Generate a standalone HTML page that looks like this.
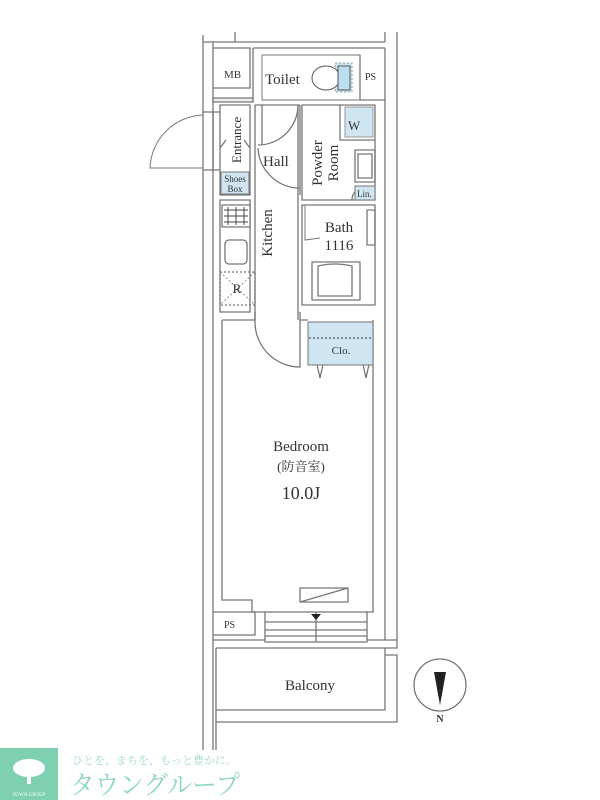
<!DOCTYPE html>
<html><head><meta charset="utf-8"><style>
body{margin:0;background:#fff;width:600px;height:800px;overflow:hidden}
svg{display:block}
text{font-family:"Liberation Serif","Noto Serif CJK SC",serif;fill:#333}
</style></head><body>
<svg width="600" height="800" viewBox="0 0 600 800" xmlns="http://www.w3.org/2000/svg">
<g fill="none" stroke="#777" stroke-width="1.3">
<path d="M203 35 V750 M213 42 V750"/>
<path d="M203 42 H235 V32 M235 42 H385 M385 32 V42"/>
<path d="M397 32 V648 H385"/>
<path d="M385 48 V640"/>
<path d="M213 48 H250 V88 H213"/>
<path d="M253 48 H385 M253 48 V100"/>
<path d="M360 55 V100 M360 100 H385"/>
<path d="M213 98 H253 V102 H213 Z" fill="#eee"/>
<path d="M220 105 H250 V195 H220 Z"/>
<path d="M213 112 V170"/>
<path d="M203 112 H220 M203 170 H220"/>
<path d="M203 115 A55 55 0 0 0 150 168 H203" stroke-width="1"/>
<path d="M220 148 L226 140 M250 148 L244 140"/>
<path d="M255 105 H300 M255 105 V320 M298 105 V320 M300 105 V195"/>
<path d="M262 105 V145 M298 105 A40 40 0 0 1 258 145"/>
<path d="M258 148 A42 42 0 0 0 300 188"/>
<path d="M302 105 H375 V200 H302 Z"/>
<path d="M340 105 V140 H375"/>
<path d="M355 150 H375 V182 H355 Z M358 154 H372 V178 H358 Z"/>
<path d="M352 200 A12 12 0 0 1 362 188"/>
<path d="M302 205 H375 V305 H302 Z"/>
<path d="M305 205 V240 L320 238" stroke-width="1"/>
<path d="M367 210 H375 V245 H367 Z"/>
<path d="M312 262 H360 V300 H312 Z M318 266 Q335 262 352 266 V296 H318 Z"/>
<path d="M220 200 H250 V312 H220 Z"/>
<rect x="225" y="240" width="22" height="24" rx="4"/>
<path d="M220 272 H255 V305 H220 Z" stroke-dasharray="2,2"/>
<path d="M220 272 L255 305 M255 272 L220 305" stroke-dasharray="2,2" stroke-width="0.8"/>
<path d="M222 320 H255 M300 320 H308 M222 320 V600 H252 V612 H265"/>
<path d="M373 320 V612 H365"/>
<path d="M255 312 V322 M300 312 V322"/>
<path d="M255 322 A45 45 0 0 0 300 367 V322"/>
<path d="M316 360 L320 378 L324 360 M362 360 L366 378 L370 360"/>
<path d="M265 612 H367 V642 H265 Z"/>
<path d="M265 622 H367 M265 630 H367 M265 636 H367 M316 612 V642"/>
<path d="M300 588 H348 V602 H300 Z M300 602 L348 588"/>
<path d="M213 612 H255 V635 H213"/>
<path d="M213 640 H265 M367 640 H397"/>
<path d="M216 648 V750 M216 648 H385 V710 H216 M216 722 H397 V655 H385"/>
<circle cx="440" cy="685" r="26"/>
</g>
<rect x="262" y="55" width="98" height="45" fill="none" stroke="#777"/>
<path d="M335 63 H352 V92 H335 Z" fill="#cfe6f2" stroke="#999" stroke-dasharray="2,2"/>
<ellipse cx="326" cy="78" rx="14" ry="12" fill="#fff" stroke="#555"/>
<rect x="338" y="66" width="12" height="24" fill="#bcdff0" stroke="#555"/>
<rect x="345" y="107" width="28" height="30" fill="#cfe6f2" stroke="#999"/>
<text x="348" y="130" font-size="13">W</text>
<rect x="355" y="186" width="20" height="14" fill="#cfe6f2" stroke="#777"/>
<text x="357" y="197" font-size="9">Lin.</text>
<rect x="221" y="172" width="28" height="22" fill="#cfe6f2" stroke="#777"/>
<text x="235" y="182" font-size="9" text-anchor="middle">Shoes</text>
<text x="235" y="192" font-size="9" text-anchor="middle">Box</text>
<rect x="222" y="205" width="28" height="22" fill="#fff" stroke="#555"/>
<g stroke="#444" stroke-width="1">
<path d="M224 210 H248 M224 216 H248 M224 222 H248 M228 207 V225 M236 207 V225 M244 207 V225"/>
</g>
<rect x="308" y="322" width="65" height="43" fill="#cfe6f2" stroke="#777"/>
<line x1="309" y1="338" x2="372" y2="338" stroke="#555" stroke-dasharray="2,2" stroke-width="1.3"/>
<text x="341" y="354" font-size="11" text-anchor="middle">Clo.</text>
<path d="M434 672 L446 672 L440 705 Z" fill="#222"/>
<text x="440" y="722" font-size="10" font-family="Liberation Sans" font-weight="bold" text-anchor="middle">N</text>
<path d="M311 614 L321 614 L316 620 Z" fill="#222"/>
<text x="224" y="78" font-size="11">MB</text>
<text x="265" y="84" font-size="15">Toilet</text>
<text x="365" y="80" font-size="10">PS</text>
<text x="263" y="166" font-size="15">Hall</text>
<text x="224" y="628" font-size="10">PS</text>
<text transform="translate(241,140) rotate(-90)" font-size="13" text-anchor="middle">Entrance</text>
<text transform="translate(272,233) rotate(-90)" font-size="15" text-anchor="middle">Kitchen</text>
<text transform="translate(322,163) rotate(-90)" font-size="15" text-anchor="middle">Powder</text>
<text transform="translate(338,163) rotate(-90)" font-size="15" text-anchor="middle">Room</text>
<text x="339" y="232" font-size="15" text-anchor="middle">Bath</text>
<text x="339" y="250" font-size="15" text-anchor="middle">1116</text>
<text x="237" y="293" font-size="13" text-anchor="middle">R</text>
<text x="301" y="451" font-size="15" text-anchor="middle">Bedroom</text>
<text x="301" y="471" font-size="13" text-anchor="middle">(防音室)</text>
<text x="301" y="499" font-size="18" text-anchor="middle">10.0J</text>
<text x="310" y="690" font-size="15" text-anchor="middle">Balcony</text>
<rect x="0" y="748" width="58" height="52" fill="#7fd0b0"/>
<ellipse cx="29" cy="768" rx="16" ry="9" fill="#fff"/>
<rect x="27" y="770" width="4" height="14" fill="#fff"/>
<text x="29" y="796" font-size="5" font-family="Liberation Sans" style="fill:#fff" text-anchor="middle">TOWN GROUP</text>
<text x="72" y="764" font-size="11" font-family="Liberation Sans,Noto Sans CJK JP,sans-serif" style="fill:#9fdcc5">ひとを、まちを、もっと豊かに。</text>
<text x="70" y="794" font-size="26" font-family="Liberation Sans,Noto Sans CJK JP,sans-serif" style="fill:#8fd6bc" textLength="170" lengthAdjust="spacingAndGlyphs">タウングループ</text>
</svg>
</body></html>
